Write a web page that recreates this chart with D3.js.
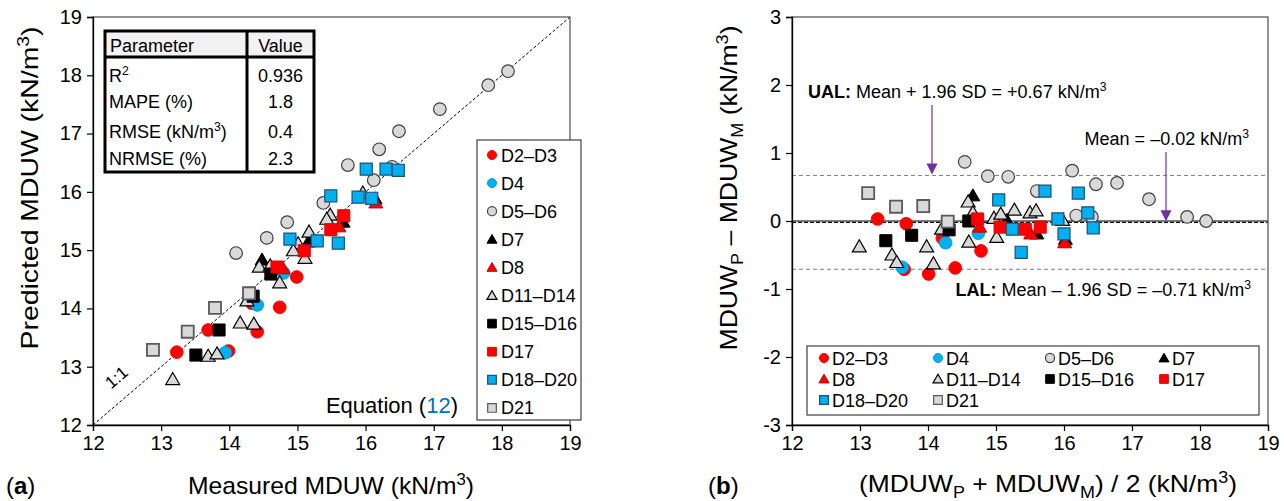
<!DOCTYPE html>
<html>
<head>
<meta charset="utf-8">
<script src="https://cdn.jsdelivr.net/npm/d3@7/dist/d3.min.js"></script>
<style>
  html, body { margin: 0; padding: 0; background: #fff; }
  svg { display: block; font-family: "Liberation Sans", Arial, sans-serif; }
</style>
</head>
<body>
<svg id="chart" width="1284" height="501"></svg>
<script>
// ---------------- DATA ----------------
const seriesNames = ["D2–D3", "D4", "D5–D6", "D7", "D8", "D11–D14", "D15–D16", "D17", "D18–D20", "D21"];
const tickValuesA = [12, 13, 14, 15, 16, 17, 18, 19];
const tickValuesBy = [-3, -2, -1, 0, 1, 2, 3];

// Panel (a): [measured, predicted]
const aD2D3 = [[14.99,14.54],[14.33,14.09],[14.74,14.02],[13.69,13.63],[14.41,13.60],[13.23,13.25],[13.99,13.27]];
const aD4 = [[14.80,14.61],[14.41,14.06],[13.94,13.24]];
const aD5D6 = [[18.09,18.07],[17.80,17.83],[17.09,17.42],[16.49,17.04],[16.20,16.73],[15.74,16.46],[16.39,16.43],[16.12,16.20],[15.38,15.81],[14.85,15.48],[14.55,15.21],[14.10,14.95]];
const aD7 = [[15.67,15.48],[15.16,15.14],[14.48,14.83],[16.14,15.88]];
const aD8 = [[16.15,15.81],[15.61,15.40],[14.79,14.68]];
const aD11D14 = [[15.96,15.98],[15.48,15.60],[15.43,15.53],[15.17,15.31],[15.01,15.11],[14.94,14.99],[15.11,14.86],[14.74,14.44],[14.44,14.71],[14.26,14.13],[14.16,13.75],[14.36,13.73],[13.69,13.18],[13.82,13.22],[13.17,12.78],[14.60,14.73]];
const aD15D16 = [[14.61,14.59],[14.35,14.21],[13.85,13.63],[13.51,13.20]];
const aD17 = [[15.68,15.59],[15.49,15.35],[15.10,14.99],[14.70,14.71]];
const aD18D20 = [[16.01,16.39],[16.30,16.39],[16.48,16.37],[15.49,15.93],[15.89,15.91],[16.09,15.89],[14.89,15.19],[15.29,15.16],[15.60,15.12]];
const aD21 = [[14.29,14.26],[13.79,14.01],[13.39,13.60],[12.88,13.29]];

// Panel (b): [mean, difference]
const bD2D3 = [[13.26,0.03],[13.68,-0.04],[14.21,-0.25],[14.78,-0.44],[13.65,-0.71],[14.01,-0.78],[14.40,-0.69]];
const bD4 = [[14.74,-0.18],[14.26,-0.32],[13.62,-0.68]];
const bD5D6 = [[14.54,0.87],[14.88,0.66],[15.18,0.65],[16.12,0.74],[16.47,0.54],[16.78,0.56],[17.25,0.32],[15.60,0.44],[16.18,0.08],[16.41,0.06],[17.81,0.06],[18.09,0.00]];
const bD7 = [[14.66,0.37],[15.16,0.01],[15.60,-0.19],[16.02,-0.27]];
const bD8 = [[14.76,-0.09],[15.51,-0.19],[16.01,-0.32]];
const bD11D14 = [[12.99,-0.38],[13.47,-0.50],[13.54,-0.61],[13.98,-0.38],[14.08,-0.63],[14.59,0.28],[14.66,0.12],[14.60,-0.31],[15.01,-0.24],[14.97,0.04],[15.07,0.10],[15.27,0.16],[15.50,0.12],[15.59,0.15],[15.98,0.01],[14.20,-0.12]];
const bD15D16 = [[13.38,-0.29],[13.76,-0.21],[14.31,-0.13],[14.60,0.00]];
const bD17 = [[14.73,0.03],[15.06,-0.09],[15.43,-0.12],[15.65,-0.09]];
const bD18D20 = [[15.04,0.31],[15.72,0.44],[16.21,0.41],[15.91,0.03],[16.35,0.12],[16.43,-0.10],[15.24,-0.12],[16.00,-0.19],[15.37,-0.46]];
const bD21 = [[13.12,0.41],[13.53,0.21],[13.93,0.22],[14.29,-0.01]];

const tableRows = [["R", "2", "0.936"], ["MAPE (%)", "", "1.8"], ["RMSE (kN/m", "3", "0.4"], ["NRMSE (%)", "", "2.3"]];
const meanDiff = -0.02, ualValue = 0.67, lalValue = -0.71;

// ---------------- STYLES ----------------
const styles = [
  {shape: "circle",   fill: "#ff0000", stroke: "#ff0000", sw: 1},
  {shape: "circle",   fill: "#00b0f0", stroke: "#00a0e0", sw: 1},
  {shape: "circle",   fill: "#d9d9d9", stroke: "#404040", sw: 1.2},
  {shape: "triangle", fill: "#000000", stroke: "#000000", sw: 1},
  {shape: "triangle", fill: "#ff0000", stroke: "#c00000", sw: 1},
  {shape: "triangle", fill: "#d9d9d9", stroke: "#000000", sw: 1.2},
  {shape: "square",   fill: "#000000", stroke: "#000000", sw: 1},
  {shape: "square",   fill: "#ff0000", stroke: "#e00000", sw: 1},
  {shape: "square",   fill: "#00b0f0", stroke: "#1f4e79", sw: 1.2},
  {shape: "square",   fill: "#d9d9d9", stroke: "#595959", sw: 1.8}
];
const dataA = [aD2D3, aD4, aD5D6, aD7, aD8, aD11D14, aD15D16, aD17, aD18D20, aD21];
const dataB = [bD2D3, bD4, bD5D6, bD7, bD8, bD11D14, bD15D16, bD17, bD18D20, bD21];

const svg = d3.select("#chart");
svg.append("rect").attr("width", 1284).attr("height", 501).attr("fill", "#fff");

function symPath(shape, scale) {
  const sizes = {circle: 125, triangle: 84, square: 145};
  const types = {circle: d3.symbolCircle, triangle: d3.symbolTriangle, square: d3.symbolSquare};
  return d3.symbol().type(types[shape]).size(sizes[shape] * scale * scale)();
}

// rich text helper: parts [{t, sub, sup}]
function rich(g, parts, fs) {
  const off = (q) => q ? (q.sub ? 0.24 * fs : (q.sup ? -0.38 * fs : 0)) : 0;
  parts.forEach((p, i) => {
    const prev = i > 0 ? parts[i - 1] : null;
    const dy = off(p) - off(prev);
    const ts = g.append("tspan").text(p.t).attr("dy", dy);
    if (p.sub || p.sup) ts.attr("font-size", fs * 0.68);
    if (p.bold) ts.attr("font-weight", "bold");
    if (p.fill) ts.attr("fill", p.fill);
  });
  return g;
}

function drawFrame(x, y, yTicks, yFmt) {
  const [x0, x1] = x.range();
  const [y0, y1] = y.range();
  svg.append("rect").attr("x", x0).attr("y", y1).attr("width", x1 - x0).attr("height", y0 - y1)
    .attr("fill", "none").attr("stroke", "#595959").attr("stroke-width", 1.3);
  const gx = svg.append("g").attr("transform", `translate(0,${y0})`)
    .call(d3.axisBottom(x).tickValues(tickValuesA).tickSize(6).tickPadding(5).tickFormat(d => String(d)));
  const gy = svg.append("g").attr("transform", `translate(${x0},0)`)
    .call(d3.axisLeft(y).tickValues(yTicks).tickSize(6).tickPadding(5).tickFormat(yFmt));
  [gx, gy].forEach(g => {
    g.select(".domain").attr("stroke", "#000").attr("stroke-width", 1.3);
    g.selectAll(".tick line").attr("stroke", "#000").attr("stroke-width", 1.2);
    g.selectAll(".tick text").attr("font-size", 20).attr("fill", "#000")
      .attr("font-family", "Liberation Sans, Arial, sans-serif");
  });
}

function drawPoints(x, y, data) {
  data.forEach((arr, si) => {
    const st = styles[si];
    svg.append("g").selectAll("path").data(arr).join("path")
      .attr("d", symPath(st.shape, 1))
      .attr("transform", d => `translate(${x(d[0])},${y(d[1]) + (st.shape === "triangle" ? 1 : 0)})`)
      .attr("fill", st.fill).attr("stroke", st.stroke).attr("stroke-width", st.sw);
  });
}

function legendMarker(g, si, cx, cy) {
  const st = styles[si];
  g.append("path").attr("d", symPath(st.shape, 0.72))
    .attr("transform", `translate(${cx},${cy + (st.shape === "triangle" ? 1 : 0)})`)
    .attr("fill", st.fill).attr("stroke", st.stroke).attr("stroke-width", Math.min(st.sw, 1.2));
}

function title(x, y, rot, parts, len) {
  const t = svg.append("text")
    .attr("transform", `translate(${x},${y})${rot ? " rotate(-90)" : ""}`)
    .attr("text-anchor", "middle").attr("font-size", 24)
    .attr("textLength", len).attr("lengthAdjust", "spacingAndGlyphs");
  rich(t, parts, 24);
  return t;
}

// ================= PANEL A =================
const xA = d3.scaleLinear().domain([12, 19]).range([93, 570]);
const yA = d3.scaleLinear().domain([12, 19]).range([425, 17]);

svg.append("line").attr("x1", xA(12)).attr("y1", yA(12)).attr("x2", xA(19)).attr("y2", yA(19))
  .attr("stroke", "#000").attr("stroke-width", 1).attr("stroke-dasharray", "3,2");

drawFrame(xA, yA, tickValuesA, d => String(d));
drawPoints(xA, yA, dataA);

const ang = -Math.atan2(yA(12) - yA(19), xA(19) - xA(12)) * 180 / Math.PI;
svg.append("text").attr("transform", `translate(${xA(12.4)},${yA(12.74)}) rotate(${ang})`)
  .attr("text-anchor", "middle").attr("font-size", 17).text("1:1");

rich(svg.append("text").attr("x", 458).attr("y", 413).attr("text-anchor", "end").attr("font-size", 22),
  [{t: "Equation ("}, {t: "12", fill: "#0070c0"}, {t: ")"}], 22);

// Table
const tb = svg.append("g");
const tx0 = 105, tx1 = 314, tdiv = 247, ty0 = 31, thead = 57, ty1 = 172;
tb.append("rect").attr("x", tx0).attr("y", ty0).attr("width", tx1 - tx0).attr("height", thead - ty0).attr("fill", "#f2f2f2");
tb.append("rect").attr("x", tx0).attr("y", thead).attr("width", tx1 - tx0).attr("height", ty1 - thead).attr("fill", "#fff");
tb.append("rect").attr("x", tx0).attr("y", ty0).attr("width", tx1 - tx0).attr("height", ty1 - ty0)
  .attr("fill", "none").attr("stroke", "#000").attr("stroke-width", 3);
tb.append("line").attr("x1", tx0).attr("x2", tx1).attr("y1", thead).attr("y2", thead).attr("stroke", "#000").attr("stroke-width", 3);
tb.append("line").attr("x1", tdiv).attr("x2", tdiv).attr("y1", ty0).attr("y2", ty1).attr("stroke", "#000").attr("stroke-width", 3);
tb.append("text").attr("x", tx0 + 5).attr("y", 52).attr("font-size", 18).text("Parameter");
tb.append("text").attr("x", (tdiv + tx1) / 2).attr("y", 52).attr("font-size", 18).attr("text-anchor", "middle").text("Value");
const rowY = [82, 108, 138, 165];
tableRows.forEach((r, i) => {
  const t = tb.append("text").attr("x", tx0 + 4).attr("y", rowY[i]).attr("font-size", 18);
  const parts = [{t: r[0]}];
  if (r[1]) parts.push({t: r[1], sup: true});
  if (r[0].startsWith("RMSE")) parts.push({t: ")"});
  rich(t, parts, 18);
  tb.append("text").attr("x", (tdiv + tx1) / 2).attr("y", rowY[i]).attr("font-size", 18)
    .attr("text-anchor", "middle").text(r[2]);
});

// Legend A
const lgA = svg.append("g");
lgA.append("rect").attr("x", 477).attr("y", 140).attr("width", 104).attr("height", 280)
  .attr("fill", "#fff").attr("stroke", "#404040").attr("stroke-width", 1.2);
seriesNames.forEach((n, i) => {
  const cy = 155 + i * 28.1;
  legendMarker(lgA, i, 492, cy);
  lgA.append("text").attr("x", 501).attr("y", cy + 6.5).attr("font-size", 18).text(n);
});

// Titles A
title(38, 188, true, [{t: "Predicted MDUW (kN/m"}, {t: "3", sup: true}, {t: ")"}], 323);
title(331, 494, false, [{t: "Measured MDUW (kN/m"}, {t: "3", sup: true}, {t: ")"}], 286);
rich(svg.append("text").attr("x", 6).attr("y", 494).attr("font-size", 24),
  [{t: "("}, {t: "a", bold: true}, {t: ")"}], 24);

// ================= PANEL B =================
const xB = d3.scaleLinear().domain([12, 19]).range([792, 1268]);
const yB = d3.scaleLinear().domain([-3, 3]).range([425, 17]);

svg.append("line").attr("x1", xB(12)).attr("x2", xB(19)).attr("y1", yB(ualValue)).attr("y2", yB(ualValue))
  .attr("stroke", "#7f7f7f").attr("stroke-width", 1).attr("stroke-dasharray", "4,3");
svg.append("line").attr("x1", xB(12)).attr("x2", xB(19)).attr("y1", yB(lalValue)).attr("y2", yB(lalValue))
  .attr("stroke", "#7f7f7f").attr("stroke-width", 1).attr("stroke-dasharray", "4,3");
svg.append("line").attr("x1", xB(12)).attr("x2", xB(19)).attr("y1", yB(0)).attr("y2", yB(0))
  .attr("stroke", "#000").attr("stroke-width", 1.2);
svg.append("line").attr("x1", xB(12)).attr("x2", xB(19)).attr("y1", yB(meanDiff)).attr("y2", yB(meanDiff))
  .attr("stroke", "#000").attr("stroke-width", 1.2).attr("stroke-dasharray", "4,2");

drawFrame(xB, yB, tickValuesBy, d => String(d));
drawPoints(xB, yB, dataB);

const purple = "#7030a0";
function arrow(x, yTop, yTip) {
  svg.append("line").attr("x1", x).attr("x2", x).attr("y1", yTop).attr("y2", yTip - 9)
    .attr("stroke", purple).attr("stroke-width", 1.2);
  svg.append("path").attr("d", `M${x - 5.5},${yTip - 11}L${x + 5.5},${yTip - 11}L${x},${yTip}Z`).attr("fill", purple);
}
arrow(932, 105, yB(ualValue) - 1);
arrow(1166, 152, yB(meanDiff) - 1);

rich(svg.append("text").attr("x", 808).attr("y", 98).attr("font-size", 18),
  [{t: "UAL:", bold: true}, {t: " Mean + 1.96 SD = +0.67 kN/m"}, {t: "3", sup: true}], 18);
rich(svg.append("text").attr("x", 1249).attr("y", 145).attr("font-size", 18).attr("text-anchor", "end"),
  [{t: "Mean = –0.02 kN/m"}, {t: "3", sup: true}], 18);
rich(svg.append("text").attr("x", 1251).attr("y", 296).attr("font-size", 18).attr("text-anchor", "end"),
  [{t: "LAL:", bold: true}, {t: " Mean – 1.96 SD = –0.71 kN/m"}, {t: "3", sup: true}], 18);

// Legend B
const lgB = svg.append("g");
lgB.append("rect").attr("x", 807).attr("y", 346).attr("width", 452).attr("height", 69)
  .attr("fill", "#fff").attr("stroke", "#404040").attr("stroke-width", 1.2);
const colMx = [824, 938, 1050, 1164];
seriesNames.forEach((n, i) => {
  const c = i % 4, r = Math.floor(i / 4);
  const cy = 358 + r * 21;
  legendMarker(lgB, i, colMx[c], cy);
  lgB.append("text").attr("x", colMx[c] + 8).attr("y", cy + 6.5).attr("font-size", 18).text(n);
});

// Titles B
title(737, 188, true, [{t: "MDUW"}, {t: "P", sub: true}, {t: " – MDUW"}, {t: "M", sub: true}, {t: " (kN/m"}, {t: "3", sup: true}, {t: ")"}], 325);
title(1048, 492, false, [{t: "(MDUW"}, {t: "P", sub: true}, {t: " + MDUW"}, {t: "M", sub: true}, {t: ") / 2 (kN/m"}, {t: "3", sup: true}, {t: ")"}], 378);
rich(svg.append("text").attr("x", 708).attr("y", 494).attr("font-size", 24),
  [{t: "("}, {t: "b", bold: true}, {t: ")"}], 24);
</script>
</body>
</html>
